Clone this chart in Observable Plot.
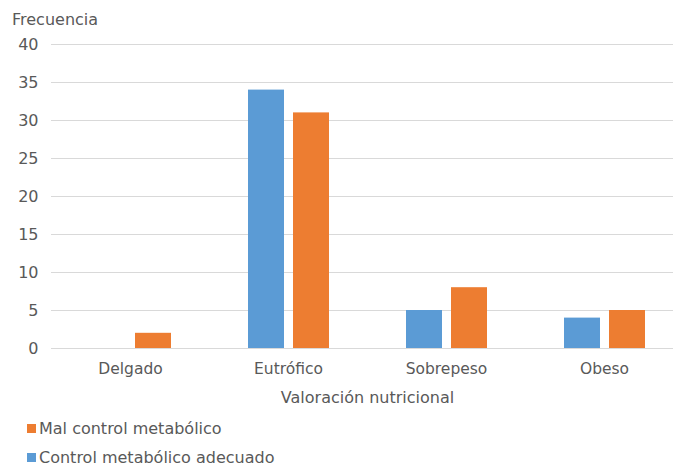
<!DOCTYPE html>
<html><head><meta charset="utf-8">
<script src="https://cdn.jsdelivr.net/npm/d3@7"></script>
<script src="https://cdn.jsdelivr.net/npm/@observablehq/plot@0.6"></script>
<style>
body{margin:0;background:#fff;font-family:"DejaVu Sans",sans-serif;color:#595959;}
#wrap{position:relative;width:673px;height:466px;overflow:hidden;background:#fff;}
#title{position:absolute;left:12px;top:10px;font-size:16px;line-height:19px;}
#chart{position:absolute;left:0;top:30px;}
.leg{position:absolute;left:27px;font-size:16px;line-height:19px;display:flex;align-items:center;white-space:nowrap;}
.sw{width:9px;height:9px;margin-right:3px;display:inline-block;}
#chart svg g[aria-label="fx-axis tick label"] text{font-size:15.5px;}
</style></head><body>
<div id="wrap">
<div id="title">Frecuencia</div>
<div id="chart"></div>
<div id="legend"></div>
</div>
<script>
const categories = ["Delgado", "Eutrófico", "Sobrepeso", "Obeso"];
const seriesNames = ["Control metabólico adecuado", "Mal control metabólico"];
const adecuado = [0, 34, 5, 4];
const malControl = [2, 31, 8, 5];
const yTicks = [0, 5, 10, 15, 20, 25, 30, 35, 40];
const colors = ["#5b9bd5", "#ed7d31"];
const legendOrder = ["Mal control metabólico", "Control metabólico adecuado"];

const rows = [];
categories.forEach((c, i) => {
  rows.push({cat: c, series: seriesNames[0], value: adecuado[i]});
  rows.push({cat: c, series: seriesNames[1], value: malControl[i]});
});

const chart = Plot.plot({
  width: 673, height: 380,
  marginLeft: 51, marginRight: 0, marginTop: 14, marginBottom: 62,
  style: {fontFamily: "DejaVu Sans, sans-serif", fontSize: "16px", color: "#595959", background: "white"},
  fx: {domain: categories, range: [51, 683], paddingInner: 0, paddingOuter: 0,
       label: "Valoración nutricional", labelAnchor: "center", labelOffset: 54,
       tickSize: 0, tickPadding: 14},
  x: {domain: seriesNames, paddingInner: 0.211, paddingOuter: 0.861, axis: null},
  y: {domain: [0, 40], ticks: yTicks, tickSize: 0, tickPadding: 13, label: null},
  color: {domain: seriesNames, range: colors},
  marks: [
    Plot.ruleY(yTicks, {stroke: "#d9d9d9", strokeWidth: 1}),
    Plot.barY(rows, {fx: "cat", x: "series", y: "value", fill: "series"})
  ]
});
document.getElementById("chart").appendChild(chart);

const leg = document.getElementById("legend");
legendOrder.forEach((name, i) => {
  const d = document.createElement("div");
  d.className = "leg";
  d.style.top = (419 + i * 29) + "px";
  const sw = document.createElement("span");
  sw.className = "sw";
  sw.style.background = colors[seriesNames.indexOf(name)];
  d.appendChild(sw);
  d.appendChild(document.createTextNode(name));
  leg.appendChild(d);
});
</script>
</body></html>
